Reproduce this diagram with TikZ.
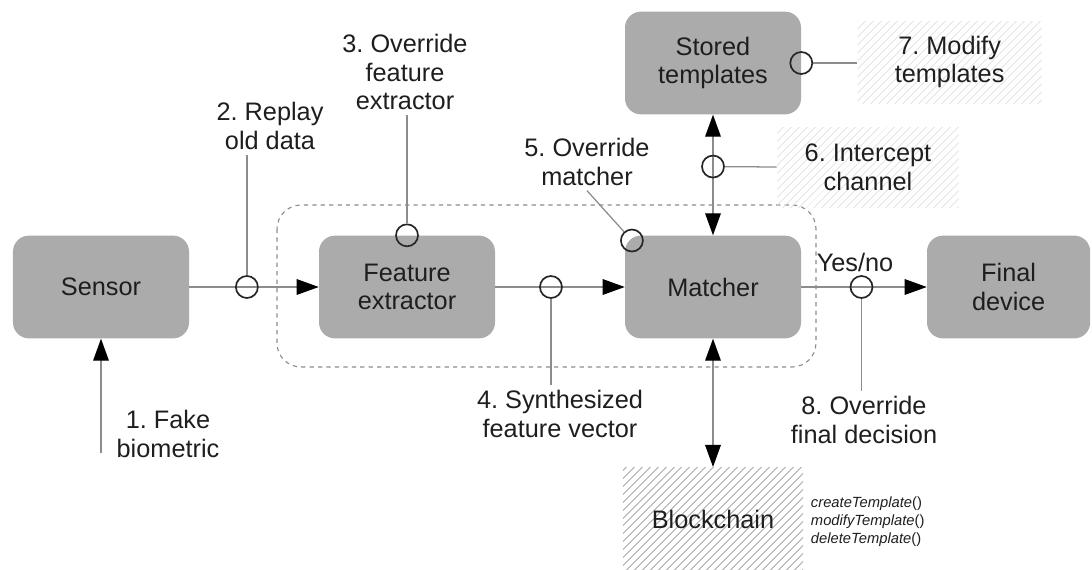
\documentclass[tikz,border=0pt]{standalone}
\usepackage{fontspec}
\setmainfont{Liberation Sans}
\usepackage{tikz}
\usetikzlibrary{arrows.meta}
\usetikzlibrary{patterns.meta}
\frenchspacing
\definecolor{boxgray}{RGB}{171 171 171}
\definecolor{linegray}{RGB}{140 140 140}
\definecolor{textgray}{RGB}{30 30 30}
\definecolor{hatchlight}{RGB}{225 225 225}
\definecolor{hatchdark}{RGB}{192 192 192}
\tikzstyle{block} = [rectangle, rounded corners=4mm, minimum width=4.4cm, minimum height=2.57cm, align=center, fill=boxgray, text=textgray]
\tikzstyle{tap} = [circle, draw=black!85, line width=1.2pt, minimum size=5.5mm, inner sep=0pt]
\tikzstyle{attack} = [align=center, text=textgray]
\tikzstyle{hatched} = [attack, pattern={Lines[angle=45,distance=4pt,line width=0.7pt]}, pattern color=hatchlight]
\tikzstyle{chainbox} = [rectangle, minimum width=4.5cm, minimum height=2.57cm, text=textgray, pattern={Lines[angle=45,distance=4pt,line width=0.9pt]}, pattern color=hatchdark]
\tikzstyle{wire} = [linegray, line width=0.9pt]
\tikzstyle{arrow} = [wire, ->]
\tikzstyle{both} = [wire, <->]
\tikzstyle{group} = [linegray, dashed, rounded corners=6mm, line width=0.8pt]

\begin{document}
\begin{tikzpicture}[node distance=7.65cm, font=\fontsize{18}{20.5}\selectfont, >={Triangle[length=5.5mm,width=3.9mm,color=black]}]
    \useasboundingbox (0,0) rectangle (27.3,-14.225);
    % main chain of blocks
    \node (sensor) [block] at (2.525,-7.175) {Sensor};
    \node (feat) [block, right of=sensor] {Feature\\extractor};
    \node (match) [block, right of=feat] {Matcher};
    \node (final) [block, right of=match, xshift=-2.6mm, minimum width=4.08cm] {Final\\device};
    \node (store) [block, above of=match, node distance=5.6cm] {Stored\\templates};
    \node (chain) [chainbox, below of=match, node distance=5.8cm] {Blockchain};
    \node (calls) [anchor=west, text=textgray, align=left, font=\fontsize{10.5}{12.8}\selectfont] at (20.15,-13.05) {\textit{createTemplate}()\\\textit{modifyTemplate}()\\\textit{deleteTemplate}()};
    \draw [group] (6.925,-5.125) rectangle (20.4,-9.175);
    % attack labels
    \node (l1) [attack] at (4.2,-10.85) {1. Fake\\biometric};
    \node (l2) [attack] at (6.75,-3.15) {2. Replay\\old data};
    \node (l3) [attack] at (10.125,-1.8) {3. Override\\feature\\extractor};
    \node (l4) [attack] at (14,-10.35) {4. Synthesized\\feature vector};
    \node (l5) [attack] at (14.675,-4.05) {5. Override\\matcher};
    \node (l6) [hatched, minimum width=4.55cm, minimum height=2cm] at (21.7,-4.175) {6. Intercept\\channel};
    \node (l7) [hatched, minimum width=4.6cm, minimum height=2.05cm] at (23.74,-1.55) {7. Modify\\templates};
    \node (l8) [attack] at (21.6,-10.5) {8. Override\\final decision};
    \coordinate (fake) at (2.525,-11.33);
    % connectors with their tapping points
    \draw [arrow] (fake) -- (sensor);
    \draw [arrow] (sensor) -- node [tap, pos=0.445] (rep) {} (feat);
    \draw [arrow] (feat) -- node [tap, pos=0.43] (syn) {} (match);
    \draw [arrow] (match) -- node [tap, pos=0.48] (yn) {} (final);
    \draw [both] (store) -- node [tap, pos=0.43] (ic) {} (match);
    \draw [both] (match) -- (chain);
    \node (ofe) [tap] at (feat.north) {};
    \node (om) [tap] at ([xshift=1.8mm, yshift=-1.3mm]match.north west) {};
    \node (mt) [tap] at (store.east) {};
    \node (yes) [attack] at (21.375,-6.55) {Yes/no};
    \draw [wire] (rep) -- (rep |- l2.south);
    \draw [wire] (ofe) -- (ofe |- l3.south);
    \draw [wire] (syn) -- (syn |- l4.north);
    \draw [wire] (om) -- (l5.south);
    \draw [wire] (ic) -- (l6.west);
    \draw [wire] (mt) -- (mt -| l7.west);
    \draw [wire] (yn) -- (yn |- l8.north);
\end{tikzpicture}
\end{document}
